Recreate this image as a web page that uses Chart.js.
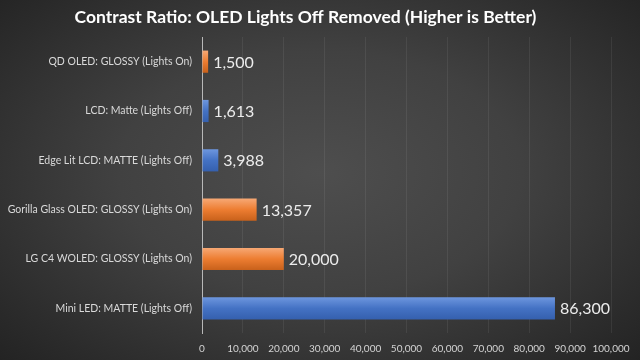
<!DOCTYPE html>
<html>
<head>
<meta charset="utf-8">
<script src="https://cdn.jsdelivr.net/npm/chart.js@4"></script>
<style>
  html, body { margin: 0; padding: 0; }
  body {
    width: 640px; height: 360px; overflow: hidden;
    background: radial-gradient(ellipse 70% 75% at 50% 48%, #4e4e4e 0%, #414141 45%, #2b2b2b 85%, #232323 100%);
  }
  #wrap { width: 640px; height: 360px; position: relative; }
</style>
</head>
<body>
<div id="wrap"><canvas id="chart"></canvas></div>
<script>
// chart data
const categories = [
  'QD OLED: GLOSSY (Lights On)',
  'LCD: Matte (Lights Off)',
  'Edge Lit LCD: MATTE (Lights Off)',
  'Gorilla Glass OLED: GLOSSY (Lights On)',
  'LG C4 WOLED: GLOSSY (Lights On)',
  'Mini LED: MATTE (Lights Off)'
];
const contrastValues = [1500, 1613, 3988, 13357, 20000, 86300];
const panelKind = ['oled', 'lcd', 'lcd', 'oled', 'oled', 'lcd'];
const axisMax = 100000;
const axisStep = 10000;

const palette = {
  oled: ['#f7a874', '#ed7d31', '#c8611b'],
  lcd: ['#6d96de', '#4472c4', '#3560ae']
};

function barFill(context) {
  const chart = context.chart;
  const cols = palette[panelKind[context.dataIndex]];
  if (!chart.chartArea) return cols[1];
  const yScale = chart.scales.y;
  const cy = yScale.getPixelForValue(context.dataIndex);
  const half = 11;
  const g = chart.ctx.createLinearGradient(0, cy - half, 0, cy + half);
  g.addColorStop(0, cols[0]);
  g.addColorStop(0.5, cols[1]);
  g.addColorStop(1, cols[2]);
  return g;
}

// value labels at the end of each bar
const valueLabels = {
  id: 'valueLabels',
  afterDatasetsDraw(chart) {
    const ctx = chart.ctx;
    const meta = chart.getDatasetMeta(0);
    ctx.save();
    ctx.font = '16px Lato, "Open Sans", sans-serif';
    ctx.fillStyle = '#ececec';
    ctx.textAlign = 'left';
    ctx.textBaseline = 'middle';
    meta.data.forEach((bar, i) => {
      ctx.fillText(contrastValues[i].toLocaleString('en-US'), bar.x + 5, bar.y + 1);
    });
    ctx.restore();
  }
};

new Chart(document.getElementById('chart'), {
  type: 'bar',
  data: {
    labels: categories,
    datasets: [{
      data: contrastValues,
      backgroundColor: barFill,
      borderWidth: 0,
      barPercentage: 0.9,
      categoryPercentage: 0.5
    }]
  },
  options: {
    indexAxis: 'y',
    responsive: true,
    maintainAspectRatio: false,
    animation: false,
    layout: { padding: { left: 0, right: 29, top: 0, bottom: 0 } },
    plugins: {
      legend: { display: false },
      tooltip: { enabled: false },
      title: {
        display: true,
        text: 'Contrast Ratio: OLED Lights Off Removed (Higher is Better)',
        color: '#ffffff',
        font: { family: 'Lato, "Open Sans", sans-serif', size: 17.5, weight: 'bold', lineHeight: 1.2 },
        padding: { top: 7, bottom: 9 }
      }
    },
    scales: {
      x: {
        min: 0,
        max: axisMax,
        ticks: {
          stepSize: axisStep,
          autoSkip: false,
          color: '#d4d4d4',
          font: { family: 'Lato, "Open Sans", sans-serif', size: 10 },
          padding: 10,
          maxRotation: 0,
          callback: (v) => v.toLocaleString('en-US')
        },
        grid: { color: 'rgba(255,255,255,0.07)', drawTicks: false },
        border: { display: false },
        afterFit: (s) => { s.height = 27; }
      },
      y: {
        ticks: {
          color: '#d9d9d9',
          font: { family: 'Lato, "Open Sans", sans-serif', size: 10.5 },
          padding: 10
        },
        grid: { display: false, drawTicks: false },
        border: { display: true, color: '#b8b8b8', width: 1 },
        afterFit: (s) => { s.width = 202; }
      }
    }
  },
  plugins: [valueLabels]
});
</script>
</body>
</html>
